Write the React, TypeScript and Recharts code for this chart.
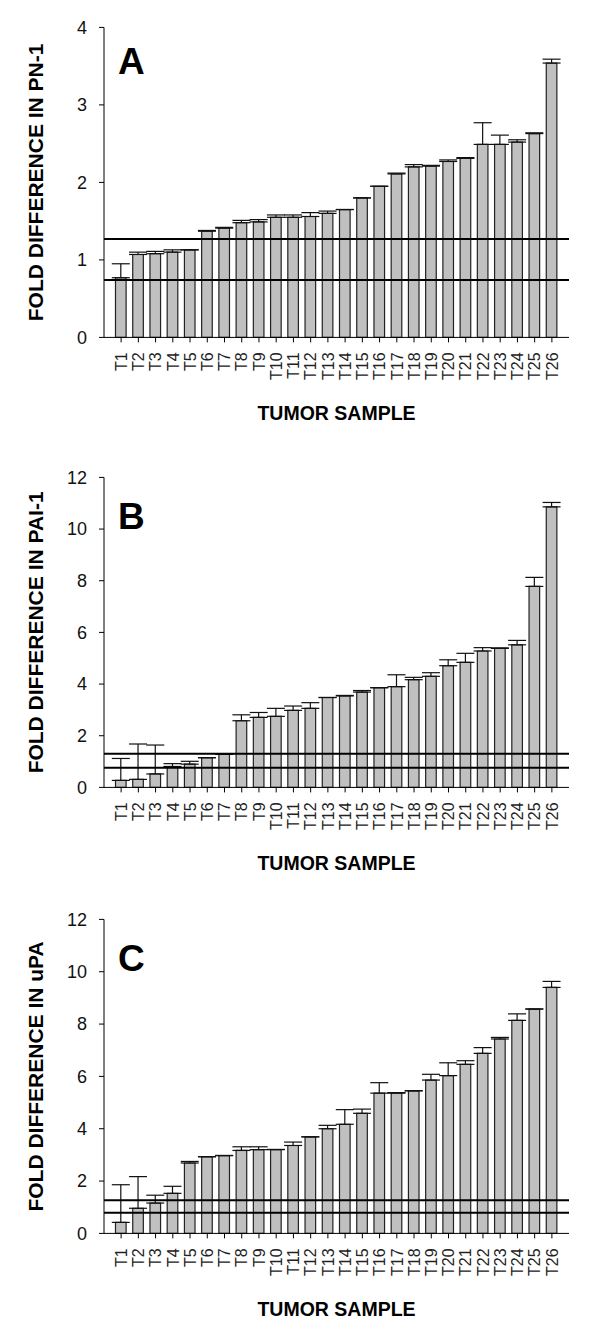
import { BarChart, Bar, XAxis, YAxis, ErrorBar, ReferenceLine } from "recharts";

const samples = [
  "T1", "T2", "T3", "T4", "T5", "T6", "T7", "T8", "T9", "T10", "T11", "T12", "T13",
  "T14", "T15", "T16", "T17", "T18", "T19", "T20", "T21", "T22", "T23", "T24", "T25", "T26",
];

const pn1Values = [0.77, 1.07, 1.08, 1.1, 1.13, 1.37, 1.41, 1.48, 1.49, 1.55, 1.55, 1.56, 1.6, 1.65, 1.8, 1.95, 2.11, 2.2, 2.21, 2.27, 2.31, 2.49, 2.49, 2.52, 2.63, 3.54];
const pn1Errors = [0.18, 0.03, 0.03, 0.03, 0, 0.01, 0.01, 0.03, 0.03, 0.03, 0.03, 0.05, 0.03, 0, 0, 0, 0.01, 0.03, 0.01, 0.02, 0.01, 0.28, 0.12, 0.03, 0.01, 0.05];

const pai1Values = [0.27, 0.31, 0.52, 0.81, 0.9, 1.15, 1.28, 2.58, 2.71, 2.75, 2.98, 3.06, 3.48, 3.54, 3.69, 3.86, 3.9, 4.17, 4.3, 4.71, 4.84, 5.28, 5.38, 5.52, 7.78, 10.86];
const pai1Errors = [0.85, 1.37, 1.12, 0.11, 0.11, 0, 0, 0.23, 0.19, 0.31, 0.17, 0.22, 0, 0.02, 0.06, 0, 0.46, 0.09, 0.14, 0.23, 0.35, 0.13, 0.02, 0.17, 0.35, 0.17];

const upaValues = [0.42, 0.96, 1.16, 1.53, 2.69, 2.93, 2.97, 3.17, 3.2, 3.2, 3.36, 3.69, 4.0, 4.17, 4.59, 5.36, 5.36, 5.45, 5.86, 6.03, 6.46, 6.88, 7.43, 8.14, 8.57, 9.4];
const upaErrors = [1.44, 1.21, 0.3, 0.27, 0.06, 0, 0.01, 0.14, 0.11, 0.01, 0.13, 0, 0.13, 0.56, 0.16, 0.4, 0.02, 0, 0.22, 0.49, 0.14, 0.22, 0.06, 0.25, 0.01, 0.23];

const pn1Limits = [0.74, 1.27];
const pai1Limits = [0.76, 1.3];
const upaLimits = [0.79, 1.27];

const ticks4 = [0, 1, 2, 3, 4];
const ticks12 = [0, 2, 4, 6, 8, 10, 12];

const FONT = "'Liberation Sans', Arial, sans-serif";

const XTick = (props: any) => {
  const { x, y, payload } = props;
  return (
    <text
      x={x}
      y={y}
      transform={`rotate(-90 ${x} ${y})`}
      textAnchor="end"
      dy="0.36em"
      fontSize={16}
      fontFamily={FONT}
      fill="#222"
    >
      {payload.value}
    </text>
  );
};

interface PanelProps {
  top: number;
  letter: string;
  letterDy: number;
  yTitle: string;
  values: number[];
  errors: number[];
  limits: number[];
  ticks: number[];
  plotH: number;
}

function Panel({ top, letter, letterDy, yTitle, values, errors, limits, ticks, plotH }: PanelProps) {
  const W = 600;
  const H = 440;
  const plotTop = 27.4;
  const plotLeft = 104;
  const plotRight = 569;
  const data = samples.map((s, i) => ({ name: s, value: values[i], err: [0, errors[i]] }));
  const plotBottom = plotTop + plotH;

  return (
    <div style={{ position: "absolute", left: 0, top, width: W, height: H }}>
      <BarChart
        width={W}
        height={H}
        data={data}
        margin={{ top: plotTop, right: W - plotRight, bottom: 0, left: 0 }}
      >
        <XAxis
          dataKey="name"
          interval={0}
          height={H - plotTop - plotH}
          padding={{ left: 8.5, right: 8.5 }}
          tickSize={5}
          tickMargin={10}
          tick={<XTick />}
          axisLine={{ stroke: "#000" }}
          tickLine={{ stroke: "#000" }}
        />
        <XAxis
          xAxisId="frame"
          orientation="top"
          type="number"
          domain={[0, 1]}
          height={0}
          tick={false}
          tickLine={false}
          axisLine={{ stroke: "#111" }}
        />
        <YAxis
          width={plotLeft}
          domain={[ticks[0], ticks[ticks.length - 1]]}
          ticks={ticks}
          interval={0}
          tickSize={5}
          tickMargin={12}
          tick={{ fontSize: 18, fontFamily: FONT, fill: "#111" }}
          axisLine={{ stroke: "#000" }}
          tickLine={{ stroke: "#000" }}
        />
        <YAxis
          yAxisId="frameR"
          orientation="right"
          width={0}
          type="number"
          domain={[0, 1]}
          tick={false}
          tickLine={false}
          axisLine={{ stroke: "#777", strokeWidth: 1.5 }}
        />
        <Bar dataKey="value" fill="#c0c0c0" stroke="#222" strokeWidth={1.2} barSize={10.6} isAnimationActive={false}>
          <ErrorBar dataKey="err" direction="y" width={9} stroke="#111" strokeWidth={1.2} />
        </Bar>
        {limits.map((l) => (
          <ReferenceLine key={l} y={l} xAxisId="frame" stroke="#000" strokeWidth={2} />
        ))}
      </BarChart>
      <svg
        width={W}
        height={H}
        style={{ position: "absolute", left: 0, top: 0, pointerEvents: "none" }}
      >
        <text x={118} y={plotTop + letterDy} fontSize={37} fontWeight="bold" fontFamily={FONT} fill="#000">
          {letter}
        </text>
        <text
          x={43}
          y={plotTop + plotH / 2}
          transform={`rotate(-90 43 ${plotTop + plotH / 2})`}
          textAnchor="middle"
          fontSize={21}
          fontWeight="bold"
          fontFamily={FONT}
          fill="#000"
        >
          {yTitle}
        </text>
        <text
          x={(plotLeft + plotRight) / 2}
          y={plotBottom + 83}
          textAnchor="middle"
          fontSize={19.5}
          fontWeight="bold"
          fontFamily={FONT}
          fill="#000"
        >
          TUMOR SAMPLE
        </text>
      </svg>
    </div>
  );
}

export default function App() {
  return (
    <div style={{ position: "absolute", left: 0, top: 0, width: 600, height: 1333, background: "#fff" }}>
      <Panel top={0} letter="A" letterDy={47} yTitle="FOLD DIFFERENCE IN PN-1" values={pn1Values} errors={pn1Errors} limits={pn1Limits} ticks={ticks4} plotH={310} />
      <Panel top={450} letter="B" letterDy={52} yTitle="FOLD DIFFERENCE IN PAI-1" values={pai1Values} errors={pai1Errors} limits={pai1Limits} ticks={ticks12} plotH={310} />
      <Panel top={892} letter="C" letterDy={52} yTitle="FOLD DIFFERENCE IN uPA" values={upaValues} errors={upaErrors} limits={upaLimits} ticks={ticks12} plotH={314} />
    </div>
  );
}
